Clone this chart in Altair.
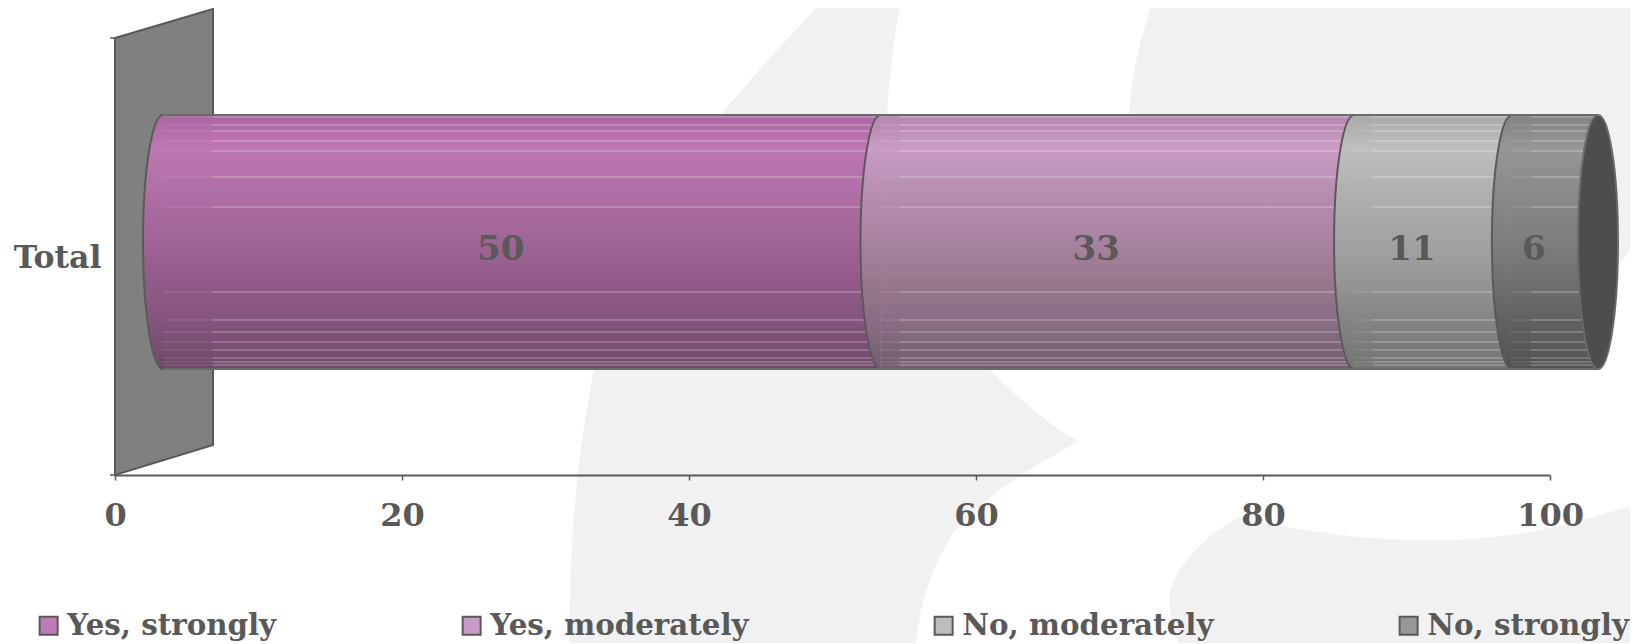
import altair as alt
import pandas as pd

categories = ["Total"]
series = ["Yes, strongly", "Yes, moderately", "No, moderately", "No, strongly"]
values = [50, 33, 11, 6]
x_ticks = [0, 20, 40, 60, 80, 100]

swatch = ["#c07ab6", "#c89cc6", "#bdbdbd", "#979797"]
stops = [
    ["#ab66a1", "#bf77b3", "#b06fa6", "#a06496", "#915b88", "#85557e", "#6e4968"],
    ["#b585ad", "#c89cc5", "#b88eb2", "#a8839f", "#99788f", "#8a6e85", "#745d70"],
    ["#a8a8a8", "#bfbfbf", "#b0b0b0", "#a3a3a3", "#969696", "#858585", "#737373"],
    ["#828282", "#969696", "#8a8a8a", "#7e7e7e", "#717171", "#626262", "#525252"],
]
stop_at = [0, 0.13, 0.3, 0.5, 0.65, 0.8, 1]

INK = "#595959"
FONT = "DejaVu Serif"
DX, DY = 48, -14.5
HALF = 127
RX = 20

rows = []
acc = 0
for c in categories:
    for s, v in zip(series, values):
        rows.append(dict(cat=c, series=s, value=v, start=acc, end=acc + v, mid=acc + v / 2))
        acc += v
df = pd.DataFrame(rows)
anchor = pd.DataFrame({"cat": categories, "zero": [0], "full": [100]})

Y = alt.Y("cat:N", title=None, scale=alt.Scale(domain=categories, paddingInner=0, paddingOuter=0))
Y_AX = alt.Y(
    "cat:N", title=None,
    scale=alt.Scale(domain=categories, paddingInner=0, paddingOuter=0),
    axis=alt.Axis(ticks=False, domain=False, labelFont=FONT, labelFontWeight="bold", labelFontSize=31.5,
                  labelColor=INK, labelPadding=14, labelAngle=0, labelOffset=2, zindex=1),
)
X = alt.X(
    "start:Q", title=None,
    scale=alt.Scale(domain=[0, 100], nice=False, zero=True),
    axis=alt.Axis(values=x_ticks, grid=False, domainColor=INK, domainWidth=2, tickColor=INK, tickWidth=1.5,
                  tickSize=5, labelFont=FONT, labelFontWeight="bold", labelFontSize=32, labelColor=INK,
                  labelPadding=20, labelFlush=False, format="d", zindex=1),
)


def deco(path, **kw):
    return alt.Chart(anchor).mark_point(shape=path, size=4, filled=True, opacity=1, **kw).encode(
        x=alt.X("zero:Q"), y=Y)


BG = "#f1f1f1"


def rel(x, y):
    return f"{x - 115},{y - 256.5}"


def curve(*pts):
    return "C" + " ".join(rel(*p) for p in pts) + " "


shape_a = ("M" + rel(833, -10) + " "
           + curve((790, 35), (750, 80), (722, 113))
           + curve((660, 200), (610, 300), (594, 370))
           + curve((580, 440), (568, 530), (570, 660))
           + "L" + rel(915, 660) + " "
           + curve((917, 610), (930, 570), (952, 535))
           + curve((975, 505), (1000, 490), (1021, 475))
           + "L" + rel(1078, 441) + " "
           + curve((1050, 425), (1040, 415), (1028, 405))
           + curve((1010, 390), (1000, 380), (990, 370))
           + curve((930, 310), (880, 220), (887, 113))
           + curve((890, 70), (895, 30), (903, -10)) + "Z")
shape_b = ("M" + rel(1156, -10) + " "
           + curve((1140, 40), (1129, 80), (1129, 130))
           + "L" + rel(1129, 300) + " L" + rel(1600, 300) + " L" + rel(1620, 263) + " L" + rel(1650, 225)
           + " L" + rel(1650, -10) + " Z")
shape_c = ("M" + rel(1650, 500) + " "
           + curve((1570, 525), (1490, 552), (1340, 535))
           + curve((1300, 529), (1260, 524), (1237, 518))
           + curve((1205, 535), (1165, 575), (1170, 605))
           + curve((1170, 625), (1177, 640), (1187, 660))
           + "L" + rel(1650, 660) + " Z")

layers = [
    deco(shape_a, fill=BG, strokeWidth=0),
    deco(shape_b, fill=BG, strokeWidth=0),
    deco(shape_c, fill=BG, strokeWidth=0),
    # side wall and the two left ticks of the value frame
    deco("M0,-218.5 L98,-247.5 L98,188.5 L0,218.5 Z", fill="#808080", stroke=INK, strokeWidth=2),
    deco("M0,-218.5 L-5,-218.5 M0,218.5 L-5,218.5", fill="none", stroke=INK, strokeWidth=1.5),
]

# base bars carry the colour scale and the legend
base = alt.Chart(df).mark_bar(height=2 * HALF, xOffset=DX, x2Offset=DX, yOffset=DY).encode(
    x=X, x2="end:Q", y=Y_AX,
    color=alt.Color(
        "series:N",
        scale=alt.Scale(domain=series, range=swatch),
        legend=alt.Legend(
            orient="none", legendX=-81, legendY=573, direction="horizontal", columns=4, gridAlign="none",
            columnPadding=180, title=None, symbolType="square", symbolSize=324, symbolStrokeColor=INK,
            symbolStrokeWidth=2, labelFont=FONT, labelFontWeight="bold", labelFontSize=29.3, labelColor=INK,
            labelOffset=4, labelLimit=400, symbolOpacity=1, rowPadding=0,
        ),
    ),
)
layers.append(base)


def grad(i):
    return alt.Gradient(
        gradient="linear", x1=0, x2=0, y1=0, y2=1,
        stops=[alt.GradientStop(offset=o, color=c) for o, c in zip(stop_at, stops[i])],
    )


for i, s in enumerate(series):
    d = df[df.series == s]
    layers.append(
        alt.Chart(d).mark_bar(height=2 * HALF, xOffset=DX, x2Offset=DX, yOffset=DY, fill=grad(i), stroke=None)
        .encode(x=alt.X("start:Q"), x2="end:Q", y=Y)
    )

stripe_offsets = [2, 10, 16, 26, 36, 62, 92, 177, 205, 217, 227, 235, 243, 247, 250]
for off in stripe_offsets:
    yo = DY - HALF + off
    layers.append(
        alt.Chart(df).mark_rule(color="white", opacity=0.14, strokeWidth=1, xOffset=DX, x2Offset=DX, yOffset=yo)
        .encode(x=alt.X("start:Q"), x2="end:Q", y=Y)
    )
    for i, s in enumerate(series):
        d = df[df.series == s]
        lead = 50 if i == 0 else 19
        layers.append(
            alt.Chart(d).mark_rule(color="white", opacity=0.3, strokeWidth=1, xOffset=DX + lead, x2Offset=DX, yOffset=yo)
            .encode(x=alt.X("start:Q"), x2="end:Q", y=Y)
        )

half_path = f"M0,{-HALF} A{RX},{HALF} 0 0 0 0,{HALF}"
for i, s in enumerate(series):
    d = df[df.series == s]
    layers.append(
        alt.Chart(d).mark_point(shape=half_path, size=4, filled=True, opacity=1, fill=grad(i), stroke="#5a5a5a",
                                strokeWidth=2, xOffset=DX, yOffset=DY)
        .encode(x=alt.X("start:Q"), y=Y)
    )

for sign in (-1, 1):
    layers.append(
        alt.Chart(anchor).mark_rule(color="#6b6b6b", strokeWidth=2, xOffset=DX, x2Offset=DX, yOffset=DY + sign * HALF)
        .encode(x=alt.X("zero:Q"), x2="full:Q", y=Y)
    )

ellipse = f"M0,{-HALF} A{RX},{HALF} 0 1 0 0,{HALF} A{RX},{HALF} 0 1 0 0,{-HALF} Z"
layers.append(
    alt.Chart(anchor).mark_point(shape=ellipse, size=4, filled=True, opacity=1, fill="#4d4d4d", stroke="#6a6a6a",
                                 strokeWidth=2, xOffset=DX, yOffset=DY)
    .encode(x=alt.X("full:Q"), y=Y)
)

layers.append(
    alt.Chart(df).mark_text(font=FONT, fontWeight="bold", fontSize=34, color=INK, xOffset=27, yOffset=-7)
    .encode(x=alt.X("mid:Q"), y=Y, text=alt.Text("value:Q", format="d"))
)

chart = alt.layer(*layers).properties(
    width=1435, height=437,
    padding={"left": 107, "top": 30, "right": 80, "bottom": 168},
    autosize=alt.AutoSizeParams(type="none"),
    background="white",
).configure_view(stroke=None)

chart.save("out.html", embed_options={"renderer": "svg", "actions": False})
